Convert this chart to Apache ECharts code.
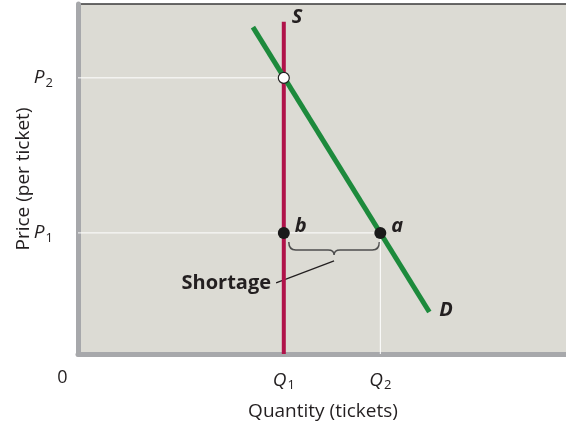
<!DOCTYPE html>
<html><head><meta charset="utf-8">
<script src="https://cdn.jsdelivr.net/npm/echarts@6/dist/echarts.min.js"></script>
<style>html,body{margin:0;padding:0;background:#fff}#c{width:566px;height:424px}</style>
</head><body><div id="c"></div>
<script>
// ---- data ----
const qValues = [0, 42.0, 61.7];
const qLabels = ['0', 'Q|1', 'Q|2'];
const pValues = [34.6, 78.9];
const pLabels = ['P|1', 'P|2'];
const supplyLine = [[42.0, 0], [42.0, 94.9]];
const demandLine = [[35.7, 93.4], [71.7, 12.0]];
const curveNames = ['S', 'D'];
const pointNames = ['b', 'a'];
const shortageText = 'Shortage';
const xName = 'Quantity (tickets)';
const yName = 'Price (per ticket)';

const Q1 = qValues[1], Q2 = qValues[2], P1 = pValues[0], P2 = pValues[1];
const FONT = 'Open Sans';
const TXT = '#231f20';

function subFmt(s) {
  if (s === '0') return '{zero|0}';
  const parts = s.split('|');
  return '{it|' + parts[0] + '}{sub|' + parts[1] + '}';
}
const richSub = {
  zero: {fontSize: 18, fontFamily: FONT, color: TXT, padding: [0, 31, 0, 0]},
  it: {fontSize: 19, fontStyle: 'italic', fontFamily: FONT, color: TXT},
  sub: {fontSize: 13, fontFamily: FONT, color: TXT, padding: [10, 0, 0, 1]}
};
const markLabel = {fontSize: 20, fontWeight: 'bold', fontStyle: 'italic', fontFamily: FONT, color: TXT};

const chart = echarts.init(document.getElementById('c'));
chart.setOption({
  animation: false,
  grid: {left: 78, right: -2, top: 4, bottom: 70, outerBoundsMode: 'none', containLabel: false, show: true, backgroundColor: '#dcdbd4', borderWidth: 1.5, borderColor: '#3a3a3a'},
  xAxis: {
    type: 'value', min: 0, max: 100,
    name: xName, nameLocation: 'middle', nameGap: 48, nameMoveOverlap: false,
    nameTextStyle: {fontSize: 19, fontFamily: FONT, color: TXT},
    axisLine: {show: true, lineStyle: {color: '#a7a8ab', width: 5}},
    axisTick: {show: false}, splitLine: {show: false},
    axisLabel: {customValues: qValues, margin: 15, formatter: v => subFmt(qLabels[qValues.indexOf(v)]), rich: richSub}
  },
  yAxis: {
    type: 'value', min: 0, max: 100,
    name: yName, nameLocation: 'middle', nameGap: 45, nameMoveOverlap: false,
    nameTextStyle: {fontSize: 19, fontFamily: FONT, color: TXT},
    axisLine: {show: true, lineStyle: {color: '#a7a8ab', width: 5}},
    axisTick: {show: false}, splitLine: {show: false},
    axisLabel: {customValues: pValues, margin: 25, formatter: v => subFmt(pLabels[pValues.indexOf(v)]), rich: richSub}
  },
  series: [
    {type: 'line', data: [[0, P2], [Q1, P2]], symbol: 'none', silent: true, lineStyle: {color: '#fff', width: 1}},
    {type: 'line', data: [[0, P1], [Q2, P1], [Q2, 0]], symbol: 'none', silent: true, lineStyle: {color: '#fff', width: 1}},
    {type: 'line', data: supplyLine, symbol: 'none', lineStyle: {color: '#b0124a', width: 4},
      endLabel: Object.assign({show: true, formatter: curveNames[0], offset: [0, -5]}, markLabel)},
    {type: 'line', data: demandLine, symbol: 'none', lineStyle: {color: '#1d8a3c', width: 5},
      endLabel: Object.assign({show: true, formatter: curveNames[1], offset: [2, -2]}, markLabel)},
    {type: 'custom', silent: true, data: [[Q1, P1, Q2]],
      renderItem: function (params, api) {
        const b = api.coord([api.value(0), api.value(1)]);
        const a = api.coord([api.value(2), api.value(1)]);
        const x0 = b[0] + 5, x1 = a[0] - 1, yT = b[1] + 9, yM = b[1] + 17, tip = b[1] + 22;
        const cx = (x0 + x1) / 2;
        const d = `M${x0} ${yT} Q${x0} ${yM} ${x0 + 7} ${yM} L${cx - 6} ${yM} Q${cx} ${yM} ${cx} ${tip} Q${cx} ${yM} ${cx + 6} ${yM} L${x1 - 7} ${yM} Q${x1} ${yM} ${x1} ${yT}`;
        return {type: 'group', children: [
          {type: 'path', shape: {pathData: d}, style: {fill: null, stroke: '#4d4d4d', lineWidth: 1.5}},
          {type: 'line', shape: {x1: cx, y1: tip + 6, x2: cx - 58, y2: tip + 28}, style: {stroke: '#231f20', lineWidth: 1.2}},
          {type: 'text', style: {text: shortageText, x: cx - 63, y: tip + 28, align: 'right', verticalAlign: 'middle', fontSize: 20, fontWeight: 'bold', fontFamily: FONT, fill: TXT}}
        ]};
      }},
    {type: 'scatter', z: 5, data: [[Q1, P2]], symbolSize: 11, itemStyle: {color: '#fff', opacity: 1, borderColor: '#222', borderWidth: 1.2}},
    {type: 'scatter', z: 5, data: [[Q1, P1], [Q2, P1]], symbolSize: 12, itemStyle: {color: '#1a1a1a', opacity: 1},
      label: Object.assign({show: true, position: 'right', formatter: p => pointNames[p.dataIndex], offset: [0, -7]}, markLabel)}
  ]
});
</script></body></html>
